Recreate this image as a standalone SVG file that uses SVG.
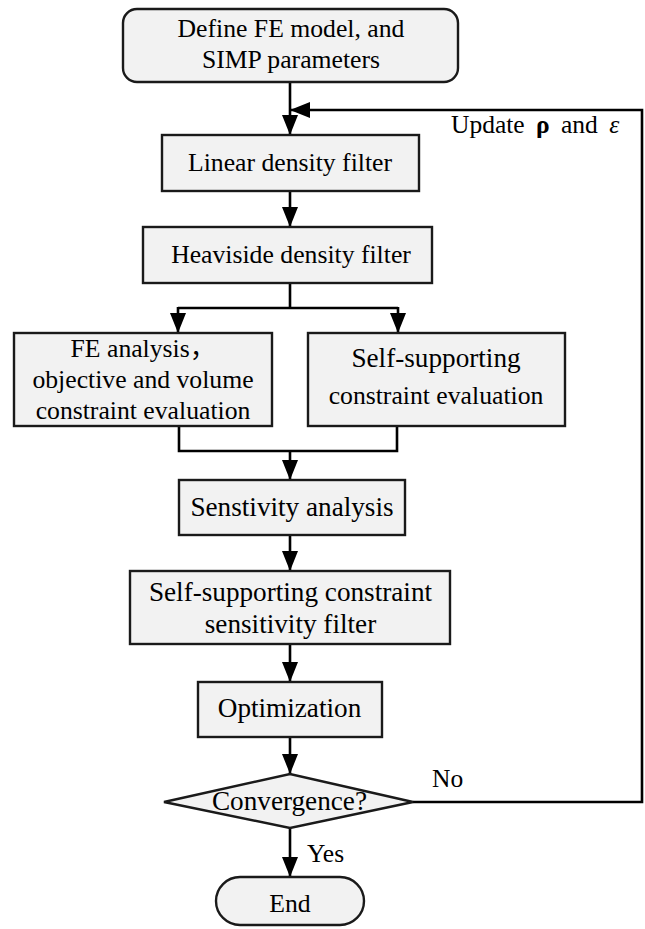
<svg xmlns="http://www.w3.org/2000/svg" width="645" height="929" viewBox="0 0 645 929">
<defs>
<marker id="arr" markerUnits="userSpaceOnUse" markerWidth="20" markerHeight="16" refX="20" refY="8" orient="auto">
<path d="M0,0 L20,8 L0,16 z" fill="#000"/>
</marker>
<style>
.box{fill:#f2f2f2;stroke:#1a1a1a;stroke-width:2.4}
.t{font-family:"Liberation Serif","Times New Roman","Noto Sans CJK SC",serif;font-size:25.7px;fill:#000;text-anchor:middle}
.big{font-size:27.2px}
.lbl{font-family:"Liberation Serif","Times New Roman",serif;font-size:25.5px;fill:#000}
.c{fill:none;stroke:#000;stroke-width:2.6}
</style>
</defs>
<rect width="645" height="929" fill="#fff"/>
<g id="connectors">
<path class="c" d="M290,82 V135" marker-end="url(#arr)"/>
<path class="c" d="M413,802 H642 V110 H290" marker-end="url(#arr)"/>
<path class="c" d="M290,191 V227" marker-end="url(#arr)"/>
<path class="c" d="M290,283 V308"/>
<path class="c" d="M178,308 H398"/>
<path class="c" d="M178,307 V333" marker-end="url(#arr)"/>
<path class="c" d="M398,307 V333" marker-end="url(#arr)"/>
<path class="c" d="M179,426 V451 H397 V426"/>
<path class="c" d="M290,451 V480" marker-end="url(#arr)"/>
<path class="c" d="M290,535 V571" marker-end="url(#arr)"/>
<path class="c" d="M290,644 V682" marker-end="url(#arr)"/>
<path class="c" d="M290,737 V774" marker-end="url(#arr)"/>
<path class="c" d="M290,828 V877" marker-end="url(#arr)"/>
<text class="lbl" x="451" y="133" word-spacing="5">Update <tspan font-weight="bold">ρ</tspan> and <tspan font-style="italic">ε</tspan></text>
<text class="lbl" x="432" y="787">No</text>
<text class="lbl" x="307" y="862">Yes</text>
</g>
<g id="start">
<rect class="box" x="123" y="9" width="335" height="73" rx="14"/>
<text class="t" x="291" y="37" font-size="26px">Define FE model, and</text>
<text class="t" x="291" y="68">SIMP parameters</text>
</g>
<g id="linear">
<rect class="box" x="162" y="135" width="257" height="56"/>
<text class="t" x="290" y="171">Linear density filter</text>
</g>
<g id="heaviside">
<rect class="box" x="143" y="227" width="289" height="56"/>
<text class="t" x="291" y="263">Heaviside density filter</text>
</g>
<g id="fe">
<rect class="box" x="14" y="333" width="258" height="93"/>
<text class="t" x="143" y="357">FE analysis，</text>
<text class="t" x="143" y="388">objective and volume</text>
<text class="t" x="143" y="419">constraint evaluation</text>
</g>
<g id="ssc">
<rect class="box" x="308" y="333" width="257" height="93"/>
<text class="t big" x="436" y="367">Self-supporting</text>
<text class="t" x="436" y="404">constraint evaluation</text>
</g>
<g id="sens">
<rect class="box" x="179" y="480" width="226" height="55"/>
<text class="t big" x="292" y="516">Senstivity analysis</text>
</g>
<g id="ssf">
<rect class="box" x="130" y="571" width="320" height="73"/>
<text class="t big" x="290.5" y="601">Self-supporting constraint</text>
<text class="t big" x="290.5" y="633">sensitivity filter</text>
</g>
<g id="opt">
<rect class="box" x="198" y="682" width="184" height="55"/>
<text class="t big" x="289.5" y="717">Optimization</text>
</g>
<g id="conv">
<path class="box" d="M164,802 L290,774 L413,802 L290,828 z"/>
<text class="t big" x="289.5" y="810">Convergence?</text>
</g>
<g id="end">
<rect class="box" x="216" y="877" width="148" height="48" rx="24"/>
<text class="t" x="290" y="912">End</text>
</g>
</svg>
